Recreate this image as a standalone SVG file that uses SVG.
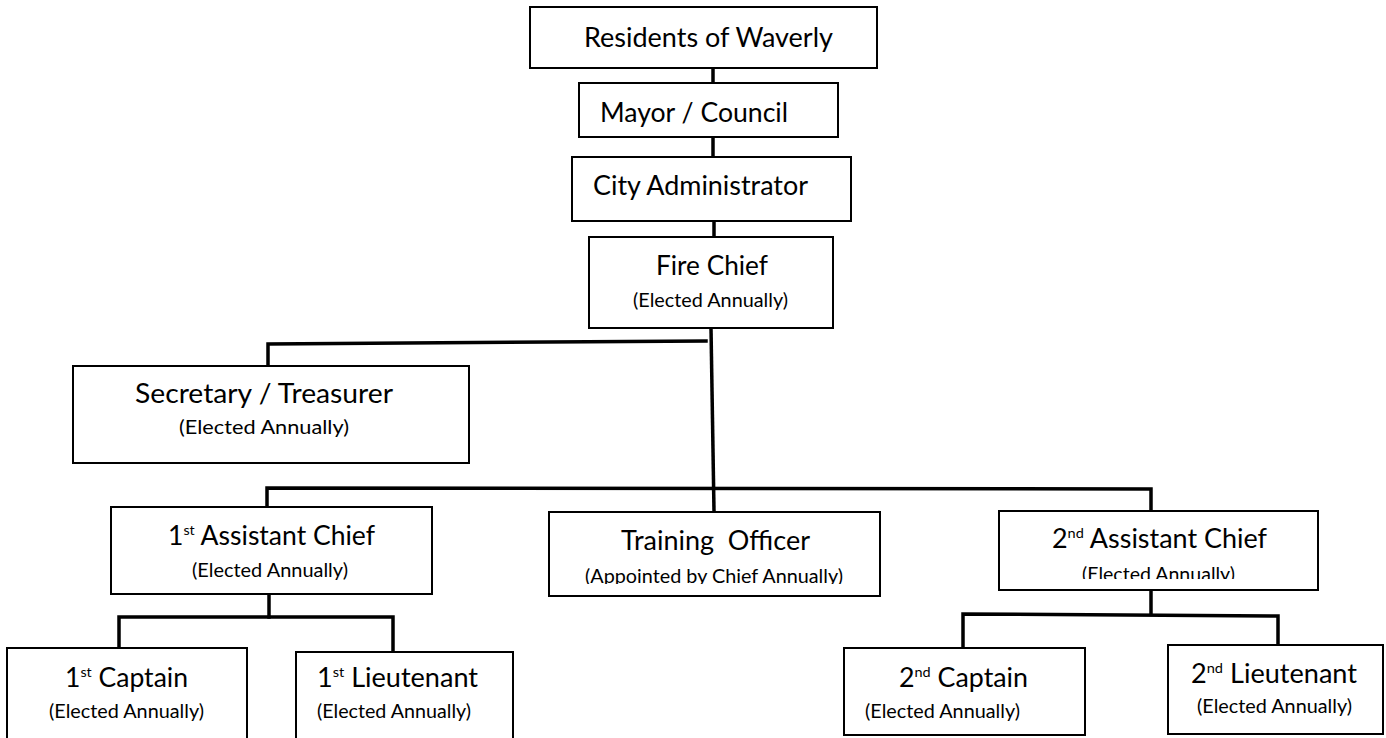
<svg xmlns="http://www.w3.org/2000/svg" width="1386" height="738" viewBox="0 0 1386 738">
<style>
.box{fill:#fff;stroke:#000;stroke-width:2}
.t{font-family:Lato,"Liberation Sans",sans-serif;font-size:26px;fill:#000}
.s{font-family:Lato,"Liberation Sans",sans-serif;font-size:18.5px;fill:#000}
.sup{font-size:14px}
.c{fill:none;stroke:#000;stroke-width:3.5;stroke-linecap:square}
</style>
<defs>
<clipPath id="clipTO"><rect x="549" y="560" width="331" height="24"/></clipPath>
<clipPath id="clipA2"><rect x="999" y="555" width="319" height="24"/></clipPath>
</defs>
<rect width="1386" height="738" fill="#fff"/>
<g id="connectors">
<line class="c" x1="713" y1="68" x2="713" y2="83"/>
<line class="c" x1="713" y1="137" x2="713" y2="157"/>
<line class="c" x1="714" y1="221" x2="714" y2="237"/>
<line class="c" x1="711" y1="328" x2="714" y2="511"/>
<polyline class="c" points="268,366 268,344 706,341"/>
<polyline class="c" points="267,507 267,488 1151,489 1151,511"/>
<line class="c" x1="269" y1="594" x2="269" y2="617"/>
<polyline class="c" points="119,648 119,617 393,617 393,652"/>
<line class="c" x1="1151" y1="590" x2="1151" y2="614"/>
<polyline class="c" points="963,648 963,614 1278,616 1278,645"/>
</g>
<g id="residents">
<rect class="box" x="530" y="7" width="347" height="61"/>
<text class="t" x="584" y="47" textLength="249" lengthAdjust="spacingAndGlyphs">Residents of Waverly</text>
</g>
<g id="mayor">
<rect class="box" x="579" y="83" width="259" height="54"/>
<text class="t" x="600" y="122" textLength="188" lengthAdjust="spacingAndGlyphs">Mayor / Council</text>
</g>
<g id="city-admin">
<rect class="box" x="572" y="157" width="279" height="64"/>
<text class="t" x="593" y="195" textLength="215" lengthAdjust="spacingAndGlyphs">City Administrator</text>
</g>
<g id="fire-chief">
<rect class="box" x="589" y="237" width="244" height="91"/>
<text class="t" x="656" y="275" textLength="112" lengthAdjust="spacingAndGlyphs">Fire Chief</text>
<text class="s" x="633" y="307" textLength="155" lengthAdjust="spacingAndGlyphs">(Elected Annually)</text>
</g>
<g id="secretary">
<rect class="box" x="73" y="366" width="396" height="97"/>
<text class="t" x="135" y="403" textLength="258" lengthAdjust="spacingAndGlyphs">Secretary / Treasurer</text>
<text class="s" x="179" y="434" textLength="170" lengthAdjust="spacingAndGlyphs">(Elected Annually)</text>
</g>
<g id="asst-chief-1">
<rect class="box" x="111" y="507" width="321" height="87"/>
<text class="t" x="168" y="545" textLength="207" lengthAdjust="spacingAndGlyphs">1<tspan class="sup" dy="-10">st</tspan><tspan dy="10"> Assistant Chief</tspan></text>
<text class="s" x="192" y="577" textLength="156" lengthAdjust="spacingAndGlyphs">(Elected Annually)</text>
</g>
<g id="training-officer">
<rect class="box" x="549" y="512" width="331" height="84"/>
<text class="t" x="621" y="550" textLength="189" lengthAdjust="spacingAndGlyphs" xml:space="preserve">Training  Officer</text>
<text class="s" x="585" y="583" textLength="258" lengthAdjust="spacingAndGlyphs" clip-path="url(#clipTO)">(Appointed by Chief Annually)</text>
</g>
<g id="asst-chief-2">
<rect class="box" x="999" y="511" width="319" height="79"/>
<text class="t" x="1052" y="548" textLength="215" lengthAdjust="spacingAndGlyphs">2<tspan class="sup" dy="-10">nd</tspan><tspan dy="10"> Assistant Chief</tspan></text>
<text class="s" x="1082" y="581" textLength="153" lengthAdjust="spacingAndGlyphs" clip-path="url(#clipA2)">(Elected Annually)</text>
</g>
<g id="captain-1">
<rect class="box" x="7" y="648" width="240" height="100"/>
<text class="t" x="65" y="687" textLength="123" lengthAdjust="spacingAndGlyphs">1<tspan class="sup" dy="-10">st</tspan><tspan dy="10"> Captain</tspan></text>
<text class="s" x="49" y="718" textLength="155" lengthAdjust="spacingAndGlyphs">(Elected Annually)</text>
</g>
<g id="lieutenant-1">
<rect class="box" x="296" y="652" width="217" height="96"/>
<text class="t" x="317" y="687" textLength="161" lengthAdjust="spacingAndGlyphs">1<tspan class="sup" dy="-10">st</tspan><tspan dy="10"> Lieutenant</tspan></text>
<text class="s" x="317" y="718" textLength="154" lengthAdjust="spacingAndGlyphs">(Elected Annually)</text>
</g>
<g id="captain-2">
<rect class="box" x="844" y="648" width="241" height="87"/>
<text class="t" x="899" y="687" textLength="129" lengthAdjust="spacingAndGlyphs">2<tspan class="sup" dy="-10">nd</tspan><tspan dy="10"> Captain</tspan></text>
<text class="s" x="865" y="718" textLength="155" lengthAdjust="spacingAndGlyphs">(Elected Annually)</text>
</g>
<g id="lieutenant-2">
<rect class="box" x="1168" y="645" width="215" height="89"/>
<text class="t" x="1191" y="683" textLength="166" lengthAdjust="spacingAndGlyphs">2<tspan class="sup" dy="-10">nd</tspan><tspan dy="10"> Lieutenant</tspan></text>
<text class="s" x="1197" y="713" textLength="155" lengthAdjust="spacingAndGlyphs">(Elected Annually)</text>
</g>
</svg>
